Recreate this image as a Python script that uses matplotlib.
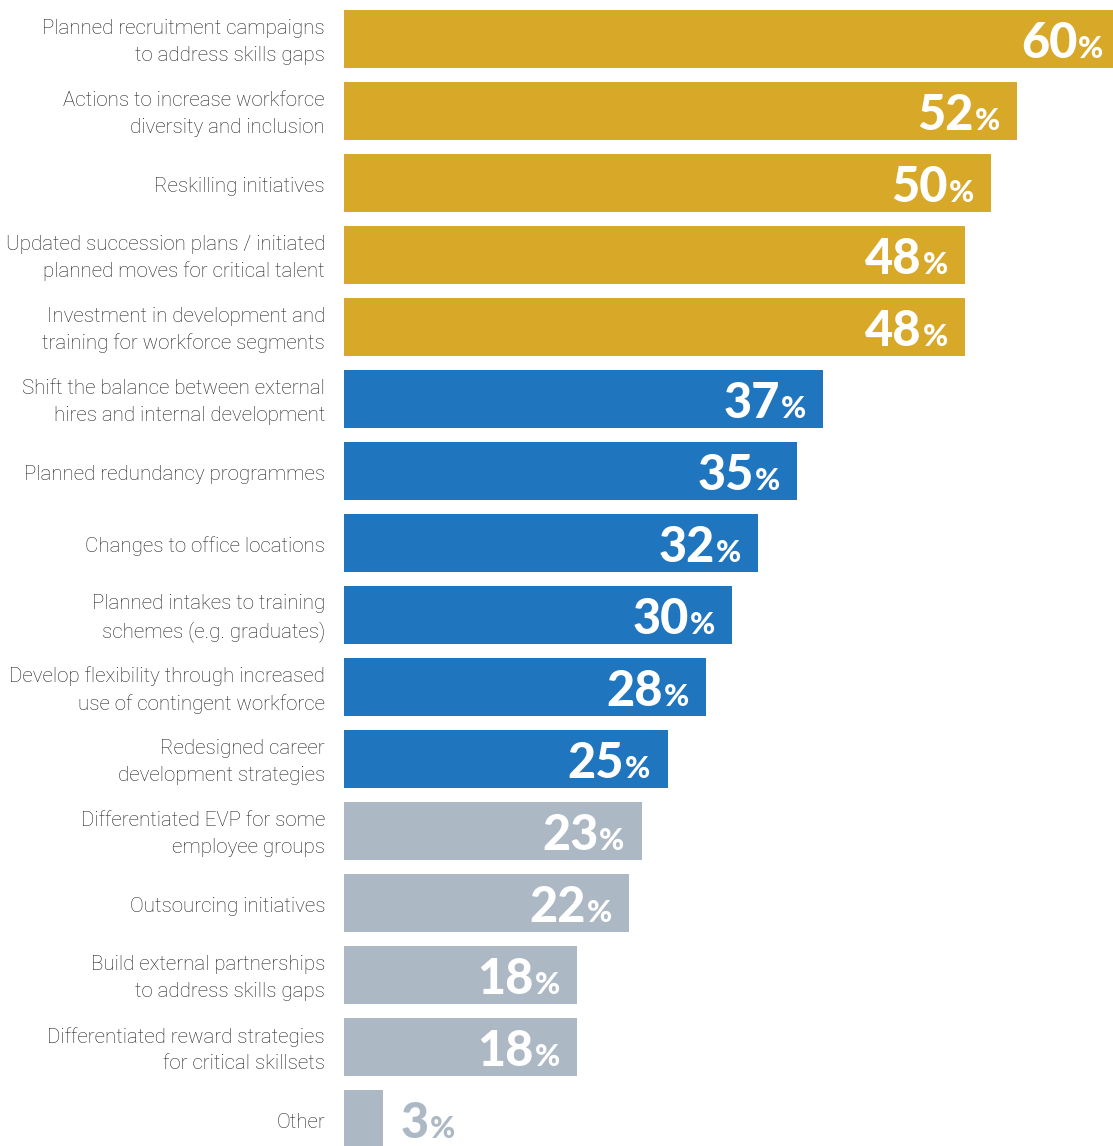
import matplotlib
matplotlib.use("Agg")
import matplotlib.pyplot as plt

categories = [
    "Planned recruitment campaigns\nto address skills gaps",
    "Actions to increase workforce\ndiversity and inclusion",
    "Reskilling initiatives",
    "Updated succession plans / initiated\nplanned moves for critical talent",
    "Investment in development and\ntraining for workforce segments",
    "Shift the balance between external\nhires and internal development",
    "Planned redundancy programmes",
    "Changes to office locations",
    "Planned intakes to training\nschemes (e.g. graduates)",
    "Develop flexibility through increased\nuse of contingent workforce",
    "Redesigned career\ndevelopment strategies",
    "Differentiated EVP for some\nemployee groups",
    "Outsourcing initiatives",
    "Build external partnerships\nto address skills gaps",
    "Differentiated reward strategies\nfor critical skillsets",
    "Other",
]
values = [60, 52, 50, 48, 48, 37, 35, 32, 30, 28, 25, 23, 22, 18, 18, 3]
groups = ["top"] * 5 + ["mid"] * 6 + ["low"] * 5

GROUP_COLORS = {"top": "#D8A829", "mid": "#1F75BE", "low": "#ACB8C3"}
LABEL_COLOR = "#222222"
NUM_FONT = "Lato"
LABEL_FONT = "Roboto"
NUM_SIZE = 35
PCT_SIZE = 22

W, H, DPI = 1113, 1146, 100
fig = plt.figure(figsize=(W / DPI, H / DPI), dpi=DPI)
ax_left = 344 / W
ax = fig.add_axes([ax_left, 0, 1 - ax_left, 1])

pitch = 72.0
bar_h = 58 / pitch
ax.set_xlim(0, (W - 344) / 12.94)
ax.set_ylim((H - 39) / pitch, -39 / pitch)
ax.axis("off")

colors = [GROUP_COLORS[g] for g in groups]
ax.barh(range(len(values)), values, height=bar_h, color=colors, edgecolor="none")

fig.canvas.draw()
renderer = fig.canvas.get_renderer()

num_kw = dict(textcoords="offset pixels", va="baseline", family=NUM_FONT,
              fontweight="black", annotation_clip=False)

for i, (cat, v) in enumerate(zip(categories, values)):
    ax.annotate(cat, xy=(0, i), xycoords="data", xytext=(-19, -3),
                textcoords="offset pixels", ha="right", va="center",
                fontsize=14.8, family=LABEL_FONT, fontweight="light",
                color=LABEL_COLOR, linespacing=1.48, annotation_clip=False)
    if v > 10:
        # value sits inside the bar, right aligned
        pct = ax.annotate("%", xy=(v, i), xytext=(-17, -19), ha="right",
                          fontsize=PCT_SIZE, color="white", **num_kw)
        pw = pct.get_window_extent(renderer).width
        ax.annotate(str(v), xy=(v, i), xytext=(-17 - pw - 1, -19), ha="right",
                    fontsize=NUM_SIZE, color="white", **num_kw)
    else:
        col = GROUP_COLORS[groups[i]]
        num = ax.annotate(str(v), xy=(v, i), xytext=(18, -19), ha="left",
                          fontsize=NUM_SIZE, color=col, **num_kw)
        nw = num.get_window_extent(renderer).width
        ax.annotate("%", xy=(v, i), xytext=(18 + nw + 1, -19), ha="left",
                    fontsize=PCT_SIZE, color=col, **num_kw)

fig.savefig("out.png", dpi=DPI)
